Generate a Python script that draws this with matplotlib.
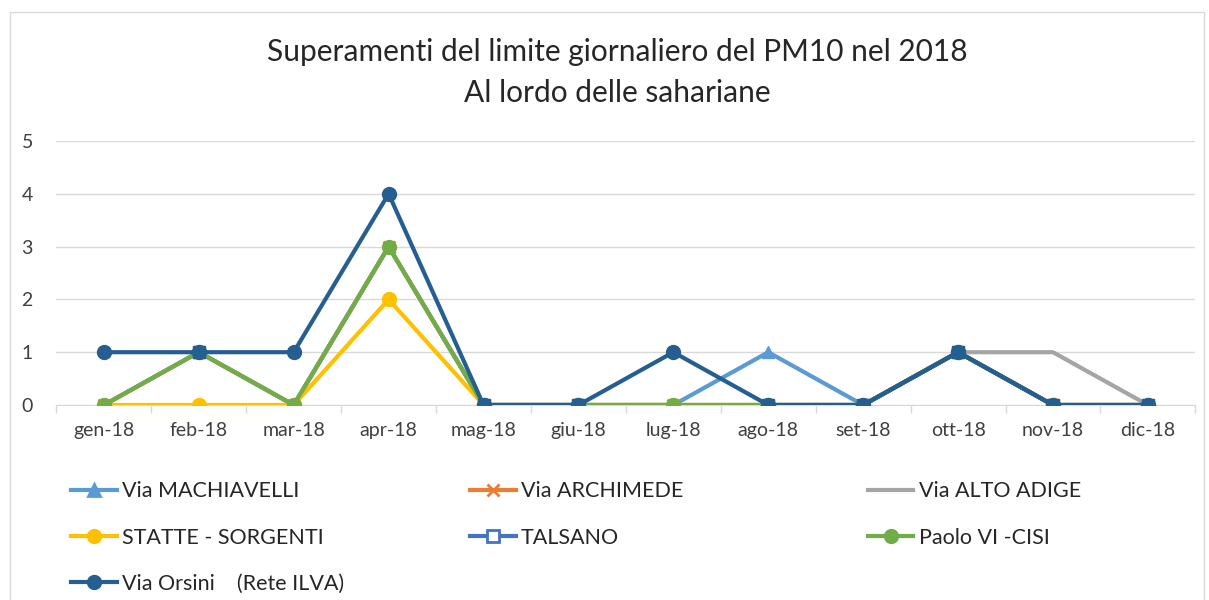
import matplotlib.pyplot as plt
from matplotlib.lines import Line2D
from matplotlib.patches import Rectangle
import numpy as np

plt.rcParams['font.family'] = ['Lato', 'DejaVu Sans']

months = ["gen-18", "feb-18", "mar-18", "apr-18", "mag-18", "giu-18",
          "lug-18", "ago-18", "set-18", "ott-18", "nov-18", "dic-18"]
nan = np.nan

machiavelli = [0, 1, 0, 3, 0, 0, 0, 1, 0, 1, 0, 0]
archimede = [0, 1, 0, 3, 0, 0, 0, 0, 0, 1, 0, 0]
alto_adige = [0, 1, 0, 3, 0, 0, 0, 0, 0, 1, 1, 0]
statte = [0, 0, 0, 2, 0, 0, 0, 0, 0, 1, 0, 0]
paolo_vi = [0, 1, 0, 3, 0, 0, 0, 0, 0, 1, 0, 0]
orsini = [1, 1, 1, 4, 0, 0, 1, 0, 0, 1, 0, 0]
talsano = [nan, 1, nan, nan, 0, 0, nan, 0, 0, 1, 0, 0]

c_mach = "#5B9BD5"
c_arch = "#ED7D31"
c_alto = "#A5A5A5"
c_stat = "#FFC000"
c_tals = "#4472C4"
c_paolo = "#70AD47"
c_ors = "#255E91"

fig = plt.figure(figsize=(12.09, 6), dpi=100)
ax = fig.add_axes([0.0467, 0.325, 0.942, 0.44])

x = np.arange(len(months))
lw = 3
ax.plot(x, machiavelli, color=c_mach, lw=lw, marker="^", ms=9, zorder=3)
ax.plot(x, archimede, color=c_arch, lw=lw, marker="x", ms=9, mew=2, zorder=3)
ax.plot(x, alto_adige, color=c_alto, lw=lw, zorder=3)
ax.plot(x, statte, color=c_stat, lw=lw, marker="o", ms=10, zorder=4)
ax.plot(x, paolo_vi, color=c_paolo, lw=lw, marker="o", ms=10, zorder=5)
ax.plot(x, orsini, color=c_ors, lw=lw, marker="o", ms=10, zorder=6)
ax.plot(x, talsano, color=c_ors, lw=lw, marker="s", ms=9, zorder=7)

ax.set_xlim(-0.5, len(months) - 0.5)
ax.set_ylim(0, 5)
ax.set_yticks(range(6))
ax.set_xticks(x)
ax.set_xticklabels(months)
ax.set_xticks(np.arange(-0.5, len(months), 1), minor=True)
ax.tick_params(axis="x", which="major", length=0, pad=12, labelsize=14, colors="#404040")
ax.tick_params(axis="x", which="minor", length=6, color="#D9D9D9", width=1)
ax.tick_params(axis="y", length=0, pad=17, labelsize=14, colors="#404040")
ax.grid(axis="y", color="#D9D9D9", lw=1)
ax.set_axisbelow(True)
for s in ["top", "right", "left"]:
    ax.spines[s].set_visible(False)
ax.spines["bottom"].set_color("#D9D9D9")
ax.spines["bottom"].set_zorder(1)

fig.text(0.511, 0.913, "Superamenti del limite giornaliero del PM10 nel 2018",
         ha="center", va="center", fontsize=21.5, color="#262626")
fig.text(0.511, 0.845, "Al lordo delle sahariane",
         ha="center", va="center", fontsize=21.5, color="#262626")

# legend, three columns placed by hand
def handle(color, marker=None, mfc=None):
    return Line2D([], [], color=color, lw=3, marker=marker, ms=9,
                  mfc=mfc if mfc else color, mew=2)

columns = [
    ([handle(c_mach, "^"), handle(c_stat, "o"), handle(c_ors, "o")],
     ["Via MACHIAVELLI", "STATTE - SORGENTI", "Via Orsini    (Rete ILVA)"], 0.052),
    ([handle(c_arch, "x"), handle(c_tals, "s", "white")],
     ["Via ARCHIMEDE", "TALSANO"], 0.382),
    ([handle(c_alto), handle(c_paolo, "o")],
     ["Via ALTO ADIGE", "Paolo VI -CISI"], 0.711),
]
for handles, labels, xpos in columns:
    fig.legend(handles, labels, loc="upper left", bbox_to_anchor=(xpos, 0.212),
               frameon=False, fontsize=15.5, handlelength=2.1, handletextpad=0.25,
               labelspacing=1.22, labelcolor="#262626", borderaxespad=0)

fig.patches.append(Rectangle((10 / 1209, -0.01), 1194 / 1209, 0.99,
                             transform=fig.transFigure, fill=False,
                             edgecolor="#D9D9D9", lw=1))

fig.savefig("out.png", dpi=100)
